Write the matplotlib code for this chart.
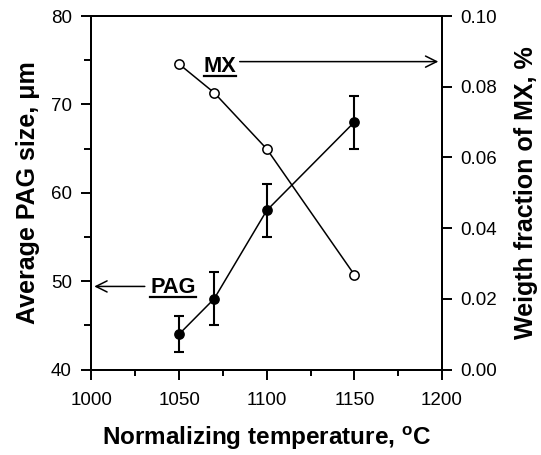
import matplotlib
matplotlib.use('Agg')
import matplotlib.pyplot as plt
from matplotlib.lines import Line2D

plt.rcParams['font.family'] = ['Liberation Sans', 'DejaVu Sans']
plt.rcParams['mathtext.fontset'] = 'custom'
plt.rcParams['mathtext.rm'] = 'Liberation Sans'
plt.rcParams['mathtext.bf'] = 'Liberation Sans:bold'

temps = [1050, 1070, 1100, 1150]
pag_size = [44, 48, 58, 68]
pag_err = [2, 3, 3, 3]
mx_frac = [0.0864, 0.0783, 0.0624, 0.0268]

fig = plt.figure(figsize=(5.41, 4.55), dpi=100)
ax = fig.add_axes([0.1691, 0.1879, 0.6479, 0.7769])
ax2 = ax.twinx()

ax.errorbar(temps, pag_size, yerr=pag_err, fmt='o-', color='black', mfc='black',
            ms=6.7, lw=1.1, elinewidth=1.5, capsize=3.3, capthick=1.5, zorder=3)
ax2.plot(temps, mx_frac, 'o-', color='black', mfc='white', mec='black', ms=6.7,
         mew=1.1, lw=1.1, zorder=3)

ax.set_xlim(1000, 1200)
ax.set_ylim(40, 80)
ax2.set_ylim(0, 0.10)
ax.set_xticks([1000, 1050, 1100, 1150, 1200])
ax.set_xticks([1025, 1075, 1125, 1175], minor=True)
ax.set_yticks([40, 50, 60, 70, 80])
ax.set_yticks([45, 55, 65, 75], minor=True)
ax2.set_yticks([0, 0.02, 0.04, 0.06, 0.08, 0.10])
ax2.set_yticklabels(['0.00', '0.02', '0.04', '0.06', '0.08', '0.10'])

for a in (ax, ax2):
    for s in a.spines.values():
        s.set_linewidth(1.4)
    a.tick_params(which='major', direction='out', length=7.2, width=1.4, labelsize=13.5)
ax.tick_params(which='both', top=False, right=False)
ax.tick_params(axis='x', which='major', pad=9)
ax.tick_params(axis='x', which='minor', direction='out', length=4.3, width=1.4)
ax.tick_params(axis='y', which='major', pad=7)
ax.tick_params(axis='y', which='minor', direction='out', length=4.8, width=1.4)
ax2.tick_params(which='both', left=False, top=False)
ax2.tick_params(axis='y', which='major', pad=5.8)

ax.set_xlabel(r'Normalizing temperature, $^{\mathbf{o}}$C', fontsize=17.5, fontweight='bold', labelpad=11)
ax.set_ylabel('Average PAG size, μm', fontsize=18, fontweight='bold', labelpad=8)
ax2.set_ylabel('Weigth fraction of MX, %', fontsize=18, fontweight='bold', labelpad=12.5)

# labels with arrows pointing to their axes
t_pag = ax.text(1046.5, 48.7, 'PAG', fontsize=15.7, fontweight='bold', ha='center', va='baseline')
ax.annotate('', xy=(1000, 49.4), xytext=(1032, 49.4),
            arrowprops=dict(arrowstyle='->', color='black', lw=1.1, mutation_scale=20))
t_mx = ax2.text(1073.3, 0.0843, 'MX', fontsize=15.7, fontweight='bold', ha='center', va='baseline')
ax2.annotate('', xy=(1199.5, 0.0871), xytext=(1083, 0.0871),
             arrowprops=dict(arrowstyle='->', color='black', lw=1.1, mutation_scale=20))

# underline the two labels, a few pixels under the baseline
fig.canvas.draw()
inv = fig.transFigure.inverted()
for t in (t_pag, t_mx):
    bb = t.get_window_extent()
    base = t.get_transform().transform(t.get_position())[1] - 4
    (x0, y0), (x1, y1) = inv.transform([(bb.x0, base), (bb.x1, base)])
    fig.add_artist(Line2D([x0, x1], [y0, y1], color='black', lw=1.6,
                          transform=fig.transFigure))

fig.savefig('out.png', dpi=100)
